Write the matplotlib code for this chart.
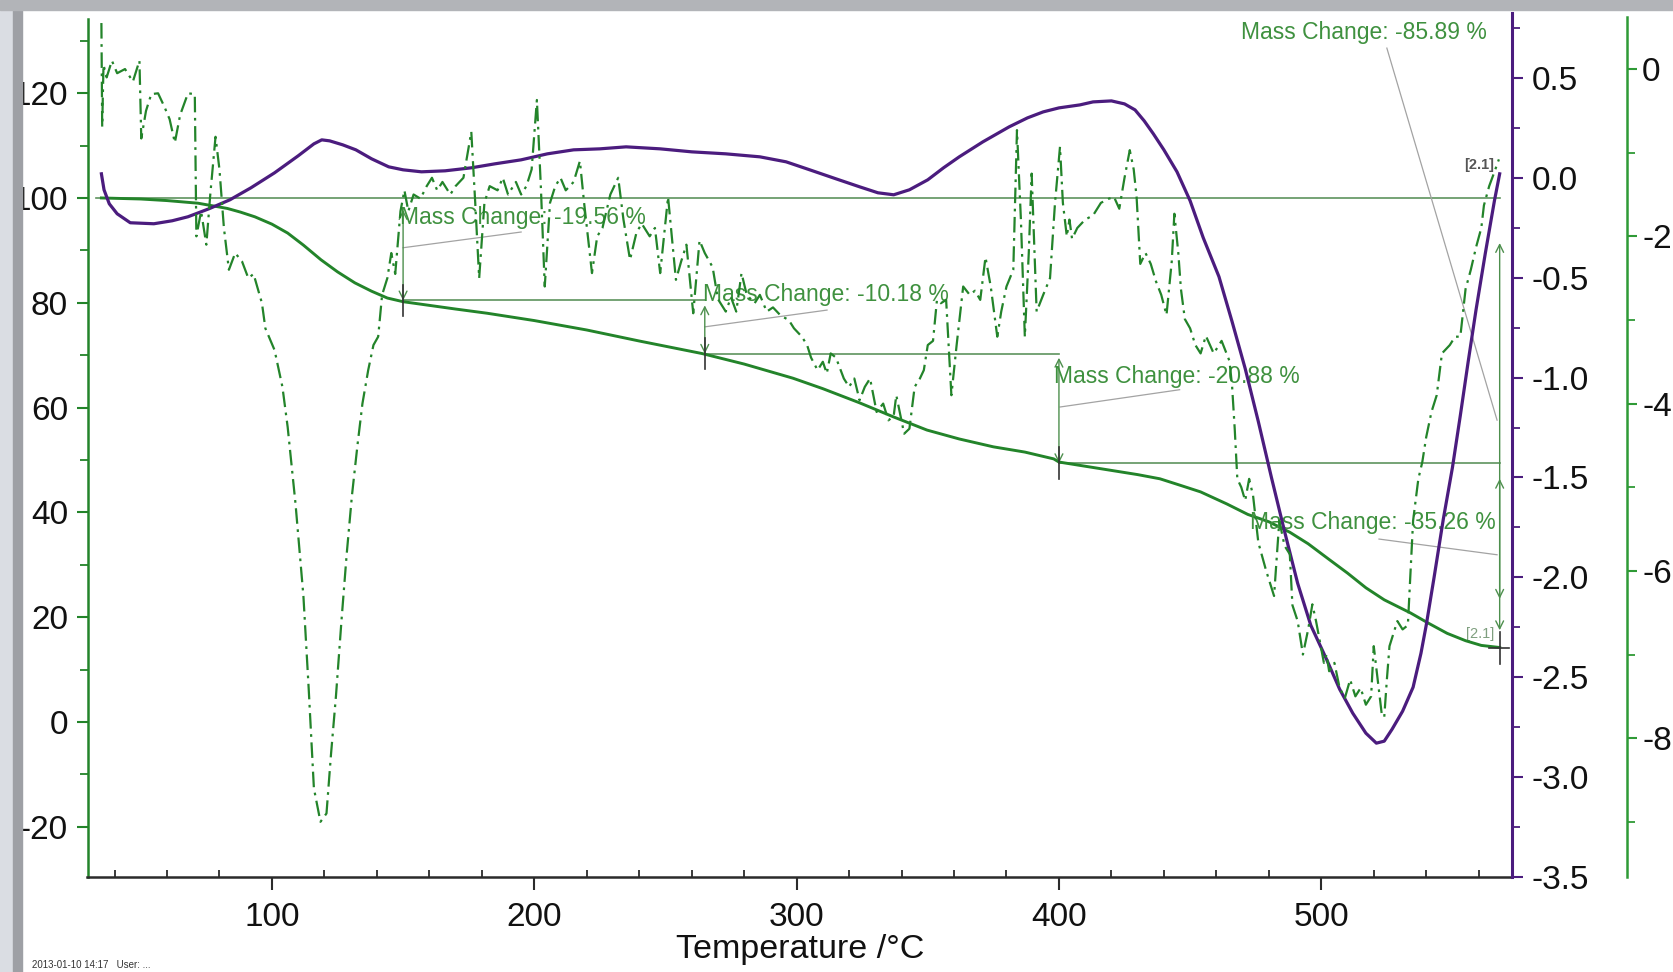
import matplotlib
matplotlib.use('Agg')
import matplotlib.pyplot as plt
from matplotlib import font_manager
from matplotlib.patches import Rectangle
from matplotlib.ticker import MultipleLocator

# fonts: narrow face for the axis numbers if there is one
names = {f.name for f in font_manager.fontManager.ttflist}
narrow = 'Liberation Sans Narrow' if 'Liberation Sans Narrow' in names else 'Liberation Sans'
tick_size = 26 if narrow == 'Liberation Sans Narrow' else 24
plt.rcParams['font.family'] = ['Liberation Sans', 'DejaVu Sans']
plt.rcParams['axes.unicode_minus'] = False

# ---- data ----
# TG, mass %
tg_temp = [35, 50, 60, 71.8, 83, 88, 93.5, 100, 106, 112, 118.7, 125, 131.6, 138, 144, 150,
           160, 170, 182, 200, 220, 240, 264, 280, 298.6, 310, 324, 337, 349.7, 362, 375,
           387, 398, 400, 410, 420, 430, 438.5, 446, 454, 464, 472, 480, 488, 495, 503,
           510, 517, 524, 534, 541, 548, 555, 561, 568]
tg_mass = [100.0, 99.8, 99.5, 99.0, 98.0, 97.3, 96.4, 95.0, 93.3, 91.0, 88.2, 85.9, 83.8, 82.2,
           80.9, 80.2, 79.5, 78.8, 78.0, 76.6, 74.8, 72.7, 70.3, 68.3, 65.6, 63.6, 60.9, 58.2,
           55.7, 54.0, 52.5, 51.5, 50.2, 49.6, 48.8, 48.0, 47.2, 46.4, 45.2, 43.9, 41.6, 39.6,
           38.2, 36.2, 34.0, 31.0, 28.4, 25.6, 23.3, 20.8, 18.8, 16.9, 15.5, 14.6, 14.2]

# DSC, mW/mg
dsc_temp = [35, 36, 38, 41, 46, 55, 62, 68, 76, 84, 92, 101, 110, 116, 119, 122, 127, 132,
            138, 144.5, 150, 157, 166, 176, 185, 195, 205, 215, 225, 235, 248, 260, 273,
            286, 296, 305, 315, 324, 331, 337, 343, 350, 356, 362, 371, 381, 388, 394, 400,
            408, 413, 420, 425, 429, 432.5, 436, 440, 445, 450, 455, 461, 466, 471, 476,
            481, 486, 491, 496, 502, 507, 512, 517, 521, 524, 527, 531, 535, 538, 540, 543,
            546.5, 550, 553, 556, 559, 562.5, 566, 568]
dsc_signal = [0.02, -0.06, -0.13, -0.18, -0.225, -0.23, -0.215, -0.195, -0.155, -0.11, -0.05,
              0.025, 0.11, 0.17, 0.19, 0.185, 0.165, 0.14, 0.095, 0.055, 0.04, 0.03, 0.035,
              0.05, 0.07, 0.09, 0.12, 0.14, 0.145, 0.155, 0.145, 0.13, 0.12, 0.105, 0.08,
              0.04, -0.005, -0.045, -0.075, -0.085, -0.06, -0.01, 0.05, 0.105, 0.18, 0.255,
              0.3, 0.33, 0.35, 0.365, 0.38, 0.385, 0.37, 0.34, 0.285, 0.22, 0.14, 0.03,
              -0.115, -0.3, -0.495, -0.72, -0.955, -1.22, -1.5, -1.77, -2.03, -2.24, -2.41,
              -2.56, -2.68, -2.78, -2.83, -2.82, -2.76, -2.67, -2.55, -2.38, -2.24, -2.0,
              -1.71, -1.45, -1.19, -0.92, -0.66, -0.38, -0.115, 0.02]

# DTG, %/min
dtg_temp = [35.0, 35.3, 35.8, 37, 39, 41, 44, 47, 49.5, 50.2, 52, 54, 56.6, 59, 61, 63, 65,
            68, 70.6, 71.2, 73, 75, 76.5, 78.5, 80, 81.7, 83.6, 86, 88.6, 91, 93, 96.2, 97.5,
            101, 104, 106, 109, 112, 114, 116, 118.5, 120.8, 122.5, 124.4, 126.5, 128.5,
            130.5, 132.6, 134.5, 136.7, 138.7, 140.5, 142, 144, 145.5, 147, 149, 150.5, 152,
            154, 156.6, 159, 161, 163, 165, 168, 170, 173, 176, 177.5, 179, 181, 183, 186,
            188, 190, 193, 195, 197, 199, 201, 202.5, 204, 206, 208, 210, 212, 215, 217.4,
            219, 222, 224, 226, 229, 232, 234, 236.5, 239, 241, 244, 246, 248, 251, 254,
            256, 258, 260.6, 263, 265, 268, 270, 273, 275, 277, 279, 281, 284, 286, 288.6,
            291, 294, 297, 299, 302, 304, 305.5, 308, 310, 311.5, 313, 315, 318, 320, 322,
            324, 326, 328, 330.5, 333, 335, 337, 338, 341, 343, 345, 347, 348.5, 350, 352,
            353.5, 355, 357, 359, 361, 363.5, 366, 368, 370, 372, 374, 376.5, 378, 380,
            382.6, 384, 385.5, 387, 388.5, 389.6, 391.5, 394, 396.6, 398.5, 400.4, 401.5,
            403, 404, 405, 407, 410, 413, 416, 419, 421, 423, 425, 427, 428.5, 429.6, 431,
            433, 435, 437, 439, 441, 443, 444, 445.5, 446.5, 448, 450, 452, 454, 456, 459,
            462, 465, 466, 467, 468, 469.5, 471, 472.5, 474, 476, 479, 482, 484, 486, 488,
            489, 491, 493, 495, 496.6, 498, 501, 502, 503, 505, 507, 509, 511, 513, 515,
            517, 519, 520, 521.5, 523, 524, 525, 526, 528, 529, 531, 533, 535, 537, 538.5,
            540, 542, 544, 546, 549, 551, 553, 555, 557, 559, 561, 562, 564, 566, 567.7]
dtg_rate = [0.55, -0.69, 0.05, -0.1, 0.1, -0.05, 0.0, -0.15, 0.1, -0.83, -0.5, -0.3, -0.29,
            -0.45, -0.6, -0.88, -0.55, -0.29, -0.3, -2.0, -1.7, -2.1, -1.5, -0.81, -1.2, -1.9,
            -2.4, -2.2, -2.3, -2.5, -2.45, -2.8, -3.1, -3.36, -3.8, -4.28, -5.2, -6.3, -7.4,
            -8.6, -9.0, -8.9, -8.2, -7.5, -6.6, -5.8, -5.1, -4.5, -4.0, -3.6, -3.3, -3.2,
            -2.7, -2.5, -2.2, -2.45, -1.7, -1.45, -1.7, -1.5, -1.55, -1.4, -1.3, -1.45,
            -1.35, -1.5, -1.4, -1.3, -0.75, -1.6, -2.5, -1.6, -1.4, -1.45, -1.3, -1.5, -1.35,
            -1.5, -1.4, -1.2, -0.37, -1.4, -2.6, -1.6, -1.4, -1.3, -1.45, -1.35, -1.1, -1.6,
            -2.44, -2.0, -1.9, -1.5, -1.3, -1.8, -2.28, -1.95, -1.85, -2.0, -1.9, -2.44,
            -1.53, -2.52, -2.3, -2.1, -2.92, -2.05, -2.2, -2.37, -2.75, -2.9, -2.73, -2.9,
            -2.44, -2.7, -2.8, -2.7, -2.9, -2.85, -2.95, -3.0, -3.1, -3.2, -3.3, -3.45, -3.6,
            -3.5, -3.64, -3.4, -3.45, -3.7, -3.8, -3.7, -3.96, -3.8, -3.7, -4.1, -4.0, -4.2,
            -4.15, -3.9, -4.36, -4.3, -3.8, -3.7, -3.6, -3.3, -3.25, -2.76, -2.8, -2.76,
            -3.9, -3.3, -2.6, -2.7, -2.65, -2.76, -2.25, -2.6, -3.2, -2.9, -2.6, -2.4, -0.73,
            -1.8, -3.2, -2.2, -1.25, -2.9, -2.7, -2.5, -1.6, -0.93, -1.6, -2.0, -1.8, -2.03,
            -1.9, -1.8, -1.75, -1.6, -1.55, -1.53, -1.67, -1.3, -0.97, -1.2, -1.53, -2.33,
            -2.2, -2.33, -2.54, -2.7, -2.94, -2.3, -1.73, -2.2, -2.63, -2.99, -3.1, -3.3,
            -3.4, -3.19, -3.4, -3.25, -3.49, -3.79, -4.3, -4.9, -5.0, -5.16, -4.9, -5.1,
            -5.66, -6.0, -6.3, -5.4, -5.7, -5.8, -6.41, -6.6, -7.0, -6.7, -6.4, -6.6, -7.1,
            -7.0, -7.2, -7.1, -7.4, -7.52, -7.3, -7.5, -7.4, -7.6, -7.5, -6.9, -7.3, -7.7,
            -7.75, -7.3, -6.9, -6.7, -6.6, -6.7, -6.65, -5.4, -4.9, -4.7, -4.4, -4.1, -3.9,
            -3.4, -3.3, -3.2, -3.2, -2.63, -2.4, -2.13, -1.9, -1.63, -1.4, -1.23, -1.08]

# mass change steps
step_temp = [150, 265, 400, 568]
step_mass = [80.44, 70.26, 49.38, 14.11]
mass_changes = [-19.56, -10.18, -20.88, -35.26]
total_change = -85.89

# ---- colours ----
green = '#23842a'
txt_green = '#3f913f'
purple = '#4b1c7e'
ref_line = '#5e935e'
leader = '#a3a3a3'

fig = plt.figure(figsize=(16.73, 9.72), dpi=100)
fig.patch.set_facecolor('white')

# grey window frame
fig.patches.append(Rectangle((0, 0), 13 / 1673, 1, transform=fig.transFigure, color='#dadde3', zorder=0))
fig.patches.append(Rectangle((13 / 1673, 0), 9 / 1673, 1, transform=fig.transFigure, color='#9ea0a5', zorder=0))
fig.patches.append(Rectangle((0, 1 - 10 / 972), 1, 10 / 972, transform=fig.transFigure, color='#b2b4b8', zorder=0))

ax = fig.add_axes([87.5 / 1673, 95 / 972, (1512 - 87.5) / 1673, (877 - 13) / 972])
ax2 = ax.twinx()
ax3 = ax.twinx()

ax.set_xlim(29.7, 572.7)
ax.set_ylim(-29.6, 135.3)
ax2.set_ylim(-3.5, 0.825)
ax3.set_ylim(-9.66, 0.67)

# curves
ax.plot(tg_temp, tg_mass, color=green, lw=2.1, zorder=5)
ax2.plot(dsc_temp, dsc_signal, color=purple, lw=2.3)
ax3.plot(dtg_temp, dtg_rate, color=green, lw=1.6, linestyle=(0, (7, 2.5, 1.2, 2.5)))

# mass-change evaluation marks
ax.plot([33, 568], [100, 100], color=ref_line, lw=1.2, zorder=2)
for i in range(3):
    ax.plot([step_temp[i], step_temp[i + 1]], [step_mass[i], step_mass[i]], color=ref_line, lw=1.2, zorder=2)

arrow_spans = [(150, 97.7, 80.44), (265, 79.5, 70.26), (400, 69.5, 49.38),
               (568, 91.4, 17.5), (568, 46.4, 23.5)]
for t, top, bot in arrow_spans:
    ax.annotate('', xy=(t, bot), xytext=(t, top),
                arrowprops=dict(arrowstyle='<->', color='#4d8f4d', lw=1.0, mutation_scale=14,
                                shrinkA=0, shrinkB=0), zorder=3)
for t, m in zip(step_temp, step_mass):
    ax.plot([t, t], [m - 3, m + 3], color='#333333', lw=1.2, zorder=6)
ax.plot([564, 571.5], [14.11, 14.11], color='#333333', lw=1.2, zorder=6)

leaders = [((150, 90.5), (195, 93.5)), ((265, 75.4), (311.6, 78.6)), ((400.4, 60.1), (446, 63.4)),
           ((567, 31.9), (522, 34.9)), ((567, 57.6), (525, 128.6))]
for (x1, y1), (x2, y2) in leaders:
    ax.plot([x1, x2], [y1, y2], color=leader, lw=0.9, zorder=2)

label_pos = [(149, 96.2, 'left'), (264.5, 81.5, 'left'), (398, 66, 'left'), (566.5, 38, 'right')]
for (x, y, ha), mc in zip(label_pos, mass_changes):
    ax.text(x, y, f'Mass Change: {mc:.2f} %', color=txt_green, fontsize=16.5, ha=ha, va='center', zorder=7)
ax.text(563, 131.5, f'Mass Change: {total_change:.2f} %', color=txt_green, fontsize=16.5,
        ha='right', va='center', zorder=7)
ax.text(566, 106.3, '[2.1]', color='#555555', fontsize=10.5, fontweight='bold', ha='right', va='center')
ax.text(566, 16.8, '[2.1]', color='#7f9f7f', fontsize=10.5, ha='right', va='center')

# ---- axes styling ----
for a in (ax, ax2, ax3):
    a.spines['top'].set_visible(False)
ax.spines['right'].set_visible(False)
ax2.spines['left'].set_visible(False)
ax3.spines['left'].set_visible(False)
ax2.spines['bottom'].set_visible(False)
ax3.spines['bottom'].set_visible(False)

ax.spines['left'].set_color(green)
ax.spines['left'].set_linewidth(1.8)
ax.spines['left'].set_bounds(-29.6, 134.2)
ax.spines['bottom'].set_color('#2b2b2b')
ax.spines['bottom'].set_linewidth(1.8)
ax2.spines['right'].set_color(purple)
ax2.spines['right'].set_linewidth(2.2)
ax3.spines['right'].set_position(('axes', 1.0807))
ax3.spines['right'].set_color('#2f9a36')
ax3.spines['right'].set_linewidth(1.8)
ax3.spines['right'].set_bounds(-9.66, 0.62)

ax.xaxis.set_minor_locator(MultipleLocator(20))
ax.set_xticks([100, 200, 300, 400, 500])
ax.tick_params(axis='x', which='major', direction='out', length=9, width=1.5, color='#2b2b2b', pad=9)
ax.tick_params(axis='x', which='minor', direction='in', length=5, width=1.3, color='#2b2b2b')

ax.set_yticks([-20, 0, 20, 40, 60, 80, 100, 120])
ax.yaxis.set_minor_locator(MultipleLocator(10))
ax.tick_params(axis='y', which='major', direction='out', length=8, width=1.5, color=green, pad=6)
ax.tick_params(axis='y', which='minor', direction='out', length=6, width=1.3, color=green)

ax2.set_yticks([-3.5, -3.0, -2.5, -2.0, -1.5, -1.0, -0.5, 0.0, 0.5])
ax2.set_yticklabels(['-3.5', '-3.0', '-2.5', '-2.0', '-1.5', '-1.0', '-0.5', '0.0', '0.5'])
ax2.yaxis.set_minor_locator(MultipleLocator(0.25))
ax2.tick_params(axis='y', which='major', direction='out', length=8, width=1.5, color=purple, pad=6)
ax2.tick_params(axis='y', which='minor', direction='out', length=6, width=1.3, color=purple)

ax3.set_yticks([-8, -6, -4, -2, 0])
ax3.yaxis.set_minor_locator(MultipleLocator(1))
ax3.tick_params(axis='y', which='major', direction='out', length=7, width=1.5, color='#2f9a36', pad=4)
ax3.tick_params(axis='y', which='minor', direction='out', length=6, width=1.3, color='#2f9a36')

for lab in ax.get_xticklabels() + ax.get_yticklabels() + ax2.get_yticklabels() + ax3.get_yticklabels():
    lab.set_fontfamily(narrow)
    lab.set_fontsize(tick_size)
    lab.set_color('#111111')

ax.set_xlabel('Temperature /°C', fontfamily=narrow, fontsize=24.5, color='#111111', labelpad=1)

fig.text(32 / 1673, 2 / 972, '2013-01-10 14:17   User: ...', fontsize=7, color='#333333', va='bottom')

fig.savefig('out.png', dpi=100)
